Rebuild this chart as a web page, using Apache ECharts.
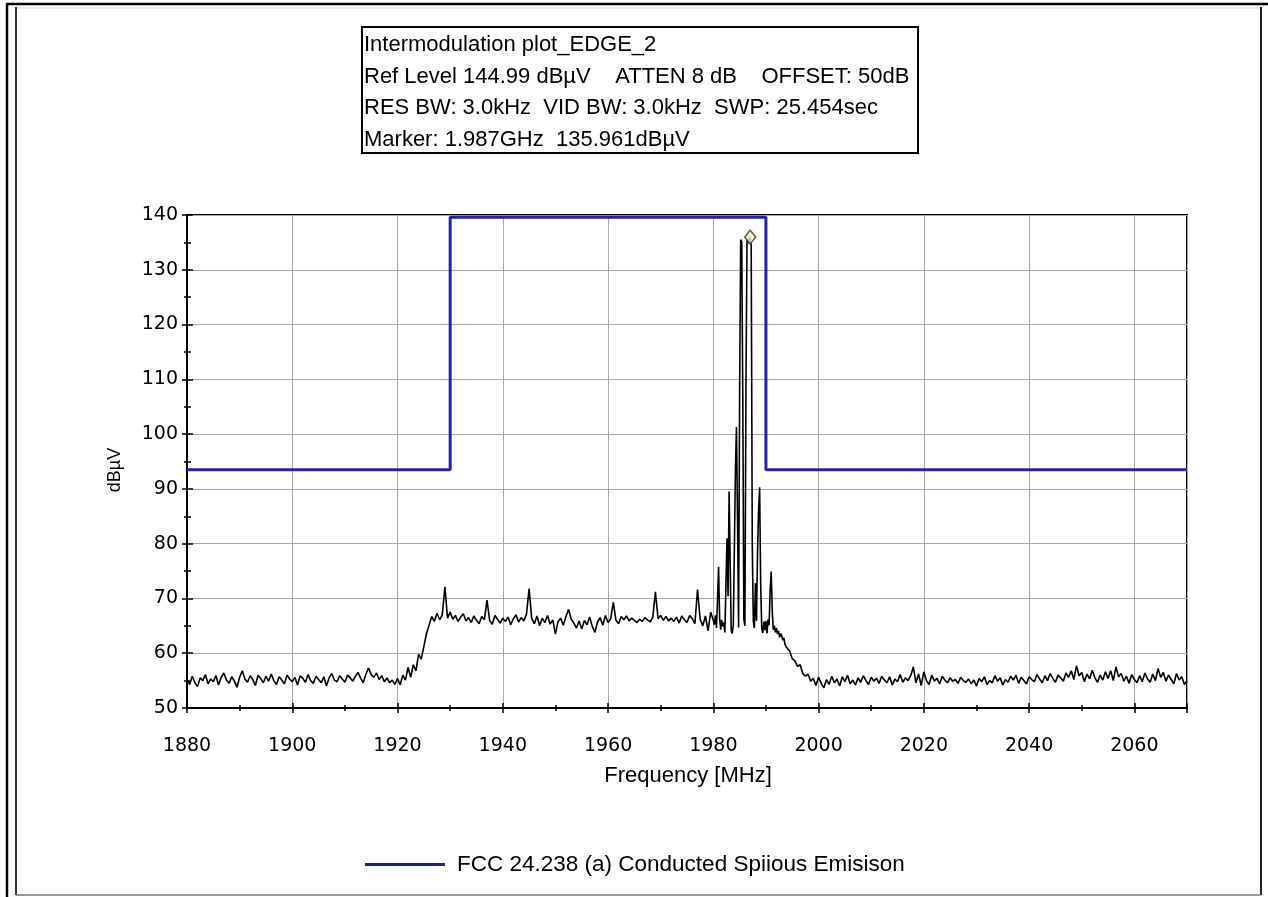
<!DOCTYPE html>
<html>
<head>
<meta charset="utf-8">
<title>Intermodulation plot_EDGE_2</title>
<script src="https://cdn.jsdelivr.net/npm/echarts@6/dist/echarts.min.js"></script>
<style>
  html, body { margin: 0; padding: 0; background: #ffffff; }
  #chart { width: 1268px; height: 897px; }
</style>
</head>
<body>
<div id="chart"></div>
<script>
// Measurement header
const plotTitle = 'Intermodulation plot_EDGE_2';
const refLevel = '144.99';
const attenDb = 8;
const offsetDb = 50;
const resBw = '3.0kHz';
const vidBw = '3.0kHz';
const sweepTime = '25.454sec';
const markerFreq = 1987;        // MHz
const markerLevel = 135.961;    // dBµV

// Axis ticks
const freqTicks = [1880, 1900, 1920, 1940, 1960, 1980, 2000, 2020, 2040, 2060];
const freqMin = 1880, freqMax = 2070, freqStep = 20;
const levelTicks = [50, 60, 70, 80, 90, 100, 110, 120, 130, 140];
const levelMin = 50, levelMax = 140, levelStep = 10;

// Sweep, lower part: 1880.0 .. 1980.0 MHz, one point every 0.5 MHz
const lowStart = 1880, lowStep = 0.5;
const lowLevels = [
  55.2, 54.3, 55.8, 54.6, 53.9, 55.5, 55.0, 56.1, 54.4, 55.3,
  54.8, 55.9, 54.2, 55.6, 56.4, 55.1, 54.5, 55.7, 54.9, 53.8,
  55.6, 56.8, 55.3, 54.7, 55.9, 55.2, 54.1, 56.0, 55.4, 54.6,
  55.8, 54.9, 56.2, 55.0, 54.3, 55.7, 55.1, 54.4, 56.0, 55.3,
  54.8, 55.6, 54.2, 55.9, 55.4, 54.7, 56.1, 55.0, 54.5, 55.8,
  55.2, 54.6, 55.7, 54.0, 55.5, 56.3, 55.1, 54.8, 55.9, 55.3,
  54.7, 56.0, 55.5, 54.9, 55.8, 56.5, 55.4, 54.6, 56.2, 57.3,
  56.1, 55.6, 56.4, 55.2, 55.9, 54.8, 55.5, 54.6, 55.1, 54.3,
  55.4, 54.2, 56.0, 55.1, 57.4, 55.6, 57.9, 56.8, 59.8, 58.9,
  61.2, 63.6, 65.1, 66.7, 65.8, 67.3, 66.1, 67.0, 72.1, 66.4,
  67.5, 66.2, 66.9, 65.8, 66.6, 67.2, 65.9, 66.5, 65.6, 66.8,
  66.0, 65.4, 66.7, 66.1, 69.7, 66.0, 65.3, 66.9, 66.2, 65.5,
  66.4, 65.8, 66.6, 65.2, 66.3, 67.0, 65.7, 66.5, 65.9, 67.1,
  71.8, 66.3, 65.4, 66.8, 65.0, 66.4, 65.6, 66.9, 65.3, 66.1,
  63.5, 65.8, 66.4, 65.1, 66.7, 68.0, 66.2, 65.5, 64.6, 65.9,
  64.4, 66.0, 65.2, 66.6, 64.9, 63.8, 65.7, 66.5, 65.1, 66.9,
  65.6, 66.3, 69.3, 66.0, 65.4, 66.7, 66.1, 66.8, 65.9, 66.4,
  66.0, 65.6, 66.2, 65.8, 66.5, 66.1, 65.7, 66.6, 71.2, 66.3,
  66.9, 66.0, 66.7, 65.9, 66.4, 65.8, 66.6, 65.5, 66.8, 66.1,
  65.6, 66.9, 66.3, 65.4, 71.6, 66.2, 65.0, 66.8, 64.1, 67.5,
  66.0
];

// Sweep, carrier region: 1980.2 .. 1994.0 MHz, one point every 0.2 MHz
const carrierStart = 1980.2, carrierStep = 0.2;
const carrierLevels = [
  65.2, 66.9, 64.6, 69.8, 75.8,
  66.4, 64.3, 66.1, 64.9, 65.6,
  63.8, 72.5, 81.0, 70.4, 89.5,
  76.8, 64.1, 63.6, 65.2, 79.0,
  93.4, 101.3, 84.5, 64.7, 107.5,
  135.5, 135.1, 106.8, 66.2, 65.0,
  108.0, 135.2, 135.7, 134.8, 135.961,
  134.3, 80.1, 65.8, 64.6, 72.8,
  65.9, 78.3, 86.0, 90.3, 72.6,
  64.5, 63.7, 65.8, 64.2, 65.9,
  63.6, 66.2, 65.1, 71.5, 74.9,
  67.6, 64.3, 65.0, 63.8, 64.6,
  63.5, 64.1, 62.9, 63.6, 63.2,
  62.4, 62.8, 61.7, 61.2, 60.9
];

// Sweep, upper part: 1994.5 .. 2070.0 MHz, one point every 0.5 MHz
const highStart = 1994.5, highStep = 0.5;
const highLevels = [
  60.4, 59.0, 58.6, 57.6, 57.9, 56.3, 55.8, 56.2, 54.9, 55.4,
  54.1, 55.6, 54.5, 53.7, 55.2, 54.3, 55.8, 54.6, 55.3, 54.0,
  55.7, 54.8, 56.0, 54.4, 55.1, 54.2, 55.5, 54.7, 55.9, 55.0,
  54.3, 55.6, 54.9, 55.4, 54.5, 55.8, 55.1, 54.6, 55.7, 54.2,
  55.3, 54.8, 56.1, 54.7, 55.5, 55.0, 55.9, 57.5, 54.6, 56.2,
  54.1, 56.6, 55.0, 54.3, 56.0, 54.9, 55.4, 54.4, 55.8, 55.1,
  54.6, 55.5, 54.9, 55.2, 54.5, 55.6, 55.0, 54.7, 55.3, 54.4,
  55.1, 54.0, 55.4, 54.8, 55.7, 54.3, 55.0, 54.6, 55.9, 54.9,
  55.5, 54.2, 55.2, 54.7, 55.8, 55.1, 56.0, 54.5, 55.6, 55.0,
  54.4, 55.7, 55.2, 54.8, 56.1, 55.3, 54.6, 55.9, 55.0, 56.3,
  55.4, 54.7, 56.0, 55.5, 54.9, 56.4, 55.6, 56.8, 55.2, 57.7,
  55.9, 56.5, 54.8, 56.2, 55.3, 56.9, 55.5, 54.7, 56.0, 55.1,
  56.6, 55.4, 56.8, 55.0, 57.5, 55.7, 56.3, 54.9, 55.8, 54.5,
  56.1, 55.2, 54.6, 55.9, 54.8, 56.4, 55.3, 54.7, 56.2, 55.0,
  57.2, 55.6, 56.5, 54.9, 56.0, 55.2, 54.4, 56.3, 55.1, 55.7,
  54.3, 55.0
];

// FCC 24.238 (a) limit mask
const limitName = 'FCC 24.238 (a) Conducted Spiious Emisison';
const limitFreqs = [1880, 1930, 1930, 1990, 1990, 2070];
const limitLevels = [93.5, 93.5, 139.6, 139.6, 93.5, 93.5];

function sweepPairs(start, step, levels) {
  return levels.map(function (v, i) {
    return [Math.round((start + i * step) * 1000) / 1000, v];
  });
}

const traceData = []
  .concat(sweepPairs(lowStart, lowStep, lowLevels))
  .concat(sweepPairs(carrierStart, carrierStep, carrierLevels))
  .concat(sweepPairs(highStart, highStep, highLevels));

const limitData = limitFreqs.map(function (f, i) { return [f, limitLevels[i]]; });

const headerLines = [
  plotTitle,
  'Ref Level ' + refLevel + ' dB\u00b5V    ATTEN ' + attenDb + ' dB    OFFSET: ' + offsetDb + 'dB',
  'RES BW: ' + resBw + '  VID BW: ' + vidBw + '  SWP: ' + sweepTime,
  'Marker: ' + (markerFreq / 1000).toFixed(3) + 'GHz  ' + markerLevel.toFixed(3) + 'dB\u00b5V'
];

const textFont = 'Liberation Sans, Arial, sans-serif';
const tickFont = 'DejaVu Sans, sans-serif';

const chart = echarts.init(document.getElementById('chart'), null, { renderer: 'canvas' });

const frame = [
  // outer window edge
  { type: 'line', shape: { x1: 6, y1: 4, x2: 1268, y2: 4 }, style: { stroke: '#000', lineWidth: 2.5 } },
  { type: 'line', shape: { x1: 7, y1: 4, x2: 7, y2: 897 }, style: { stroke: '#000', lineWidth: 2.5 } },
  // inner panel edge
  { type: 'line', shape: { x1: 16, y1: 8, x2: 1261, y2: 8 }, style: { stroke: '#d8d8d8', lineWidth: 1 } },
  { type: 'line', shape: { x1: 16, y1: 7, x2: 16, y2: 895 }, style: { stroke: '#333', lineWidth: 2 } },
  { type: 'line', shape: { x1: 1261, y1: 7, x2: 1261, y2: 895 }, style: { stroke: '#222', lineWidth: 2 } },
  { type: 'line', shape: { x1: 16, y1: 895, x2: 1261, y2: 895 }, style: { stroke: '#777', lineWidth: 1.5 } }
];

const header = [
  { type: 'rect', shape: { x: 362, y: 27, width: 556, height: 126 },
    style: { fill: '#fff', stroke: '#000', lineWidth: 2 } }
].concat(headerLines.map(function (t, i) {
  return {
    type: 'text', x: 364, y: 45 + i * 31.5,
    style: { text: t, font: '22px ' + textFont, fill: '#000', verticalAlign: 'middle' }
  };
}));

const axisNames = [
  { type: 'text', x: 688, y: 776,
    style: { text: 'Frequency [MHz]', font: '22px ' + textFont, fill: '#000', align: 'center', verticalAlign: 'middle' } },
  { type: 'text', x: 115, y: 470, rotation: Math.PI / 2,
    style: { text: 'dB\u00b5V', font: '18px ' + textFont, fill: '#000', align: 'center', verticalAlign: 'middle' } }
];

const option = {
  animation: false,
  backgroundColor: '#ffffff',
  grid: { left: 187, top: 215, width: 1000, height: 493, show: true, borderColor: '#000', borderWidth: 2, backgroundColor: 'rgba(0,0,0,0)' },
  xAxis: [{
    type: 'value', min: freqMin, max: freqMax, interval: freqStep,
    axisLine: { show: true, onZero: false, lineStyle: { color: '#000', width: 2 } },
    axisTick: { show: true, length: 5, lineStyle: { color: '#000', width: 1.5 } },
    minorTick: { show: true, splitNumber: 2, length: 3, lineStyle: { color: '#000', width: 1.5 } },
    splitLine: { show: true, lineStyle: { color: '#a9a9a9', width: 1 } },
    axisLabel: {
      color: '#000', fontFamily: tickFont, fontSize: 19, margin: 29, showMaxLabel: false,
      formatter: function (v) { return freqTicks.indexOf(v) >= 0 ? String(v) : ''; }
    }
  }, {
    type: 'value', min: freqMin, max: freqMax, interval: freqStep, position: 'bottom',
    axisLine: { show: false },
    axisTick: { show: true, inside: true, length: 5, lineStyle: { color: '#000', width: 1.5 } },
    minorTick: { show: true, splitNumber: 2, length: 3, lineStyle: { color: '#000', width: 1.5 } },
    splitLine: { show: false },
    axisLabel: { show: false }
  }],
  yAxis: [{
    type: 'value', min: levelMin, max: levelMax, interval: levelStep,
    axisLine: { show: true, onZero: false, lineStyle: { color: '#000', width: 2 } },
    axisTick: { show: true, length: 5, lineStyle: { color: '#000', width: 1.5 } },
    minorTick: { show: true, splitNumber: 2, length: 3, lineStyle: { color: '#000', width: 1.5 } },
    splitLine: { show: true, lineStyle: { color: '#a9a9a9', width: 1 } },
    axisLabel: {
      color: '#000', fontFamily: tickFont, fontSize: 19, margin: 9,
      formatter: function (v) { return levelTicks.indexOf(v) >= 0 ? String(v) : ''; }
    }
  }, {
    type: 'value', min: levelMin, max: levelMax, interval: levelStep, position: 'left',
    axisLine: { show: false },
    axisTick: { show: true, inside: true, length: 6, lineStyle: { color: '#000', width: 1.5 } },
    minorTick: { show: true, splitNumber: 2, length: 4, lineStyle: { color: '#000', width: 1.5 } },
    splitLine: { show: false },
    axisLabel: { show: false }
  }],
  legend: {
    data: [{ name: limitName, icon: 'rect', itemStyle: { color: '#23236e' } }],
    left: 365, top: 853, padding: 0,
    itemWidth: 80, itemHeight: 3, selectedMode: false,
    textStyle: { color: '#000', fontFamily: textFont, fontSize: 22.5, padding: [0, 0, 0, 7] }
  },
  series: [{
    name: 'Trace', type: 'line', data: traceData, showSymbol: false, symbol: 'none',
    lineStyle: { color: '#000', width: 1.6 }, itemStyle: { color: '#000' }, z: 3
  }, {
    name: limitName, type: 'line', data: limitData, showSymbol: false, symbol: 'none',
    lineStyle: { color: '#2424a4', width: 3 }, itemStyle: { color: '#2424a4' }, z: 4
  }, {
    name: 'Marker', type: 'scatter', data: [[markerFreq, markerLevel]],
    symbol: 'diamond', symbolSize: [11, 14],
    itemStyle: { color: '#fbf6cf', borderColor: '#3a3a2a', borderWidth: 1.5 }, z: 5
  }],
  graphic: { elements: frame.concat(header).concat(axisNames) }
};

chart.setOption(option);
</script>
</body>
</html>
